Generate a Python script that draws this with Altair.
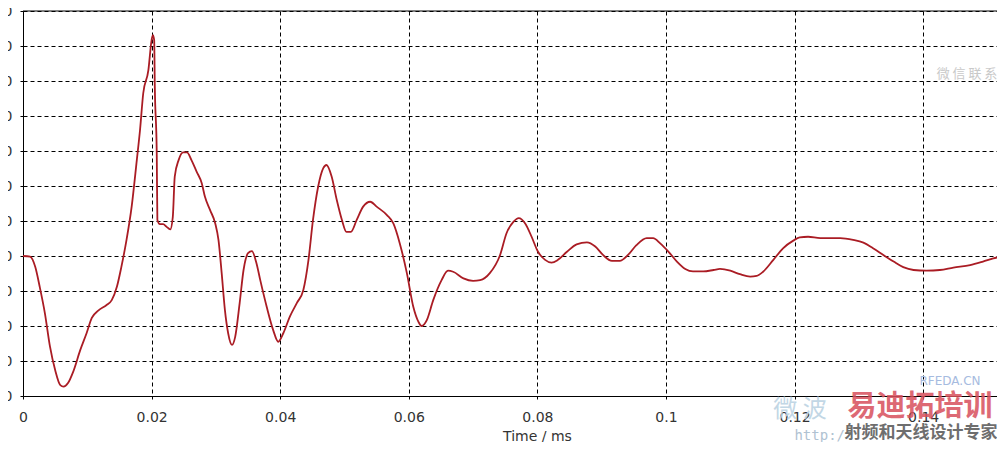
import altair as alt
import pandas as pd

# ---- data ----
time_ms = [
    0.0000, 0.0011, 0.0019, 0.0026, 0.0034, 0.0042, 0.0050, 0.0058, 0.0063, 0.0070,
    0.0078, 0.0089, 0.0099, 0.0107, 0.0117, 0.0130, 0.0138, 0.0146, 0.0153, 0.0161,
    0.0169, 0.0177, 0.0182, 0.0187, 0.0195, 0.0200, 0.0202, 0.0204, 0.0205, 0.0208,
    0.0209, 0.0213, 0.0218, 0.0223, 0.0229, 0.0233, 0.0236, 0.0242, 0.0249, 0.0255,
    0.0262, 0.0270, 0.0278, 0.0283, 0.0291, 0.0299, 0.0304, 0.0309, 0.0314, 0.0319,
    0.0325, 0.0330, 0.0337, 0.0343, 0.0350, 0.0356, 0.0363, 0.0369, 0.0379, 0.0389,
    0.0397, 0.0405, 0.0415, 0.0426, 0.0436, 0.0444, 0.0451, 0.0459, 0.0467, 0.0472,
    0.0480, 0.0488, 0.0496, 0.0503, 0.0510, 0.0519, 0.0529, 0.0540, 0.0550, 0.0566,
    0.0576, 0.0586, 0.0597, 0.0607, 0.0615, 0.0620, 0.0628, 0.0638, 0.0651, 0.0661,
    0.0669, 0.0685, 0.0700, 0.0711, 0.0726, 0.0742, 0.0752, 0.0763, 0.0771, 0.0781,
    0.0791, 0.0801, 0.0812, 0.0822, 0.0832, 0.0846, 0.0861, 0.0877, 0.0890, 0.0902,
    0.0916, 0.0928, 0.0941, 0.0954, 0.0970, 0.0980, 0.0991, 0.1004, 0.1017, 0.1030,
    0.1042, 0.1058, 0.1074, 0.1084, 0.1100, 0.1115, 0.1131, 0.1141, 0.1151, 0.1167,
    0.1182, 0.1198, 0.1208, 0.1221, 0.1240, 0.1271, 0.1291, 0.1307, 0.1322, 0.1338,
    0.1354, 0.1369, 0.1385, 0.1405, 0.1426, 0.1447, 0.1473, 0.1493, 0.1509, 0.1525,
]
signal = [
    0, -2, -31, -88, -163, -259, -326, -369, -373, -363,
    -331, -269, -220, -177, -156, -140, -126, -88, -31, 46,
    141, 274, 360, 465, 531, 617, 631, 617, 484, 294,
    103, 91, 91, 84, 76, 112, 227, 274, 296, 296,
    274, 241, 208, 169, 131, 93, 46, -49, -154, -220,
    -254, -231, -134, -40, 8, 14, -20, -69, -145, -211,
    -245, -220, -173, -134, -97, -11, 103, 198, 251, 260,
    227, 160, 103, 69, 69, 103, 141, 155, 141, 117,
    93, 36, -49, -145, -188, -200, -183, -126, -69, -42,
    -45, -64, -71, -69, -49, 3, 65, 98, 108, 93,
    55, 12, -11, -19, -11, 12, 33, 39, 27, 3,
    -14, -14, 3, 31, 51, 51, 36, 12, -16, -37,
    -44, -44, -40, -37, -42, -52, -59, -57, -45, -11,
    22, 44, 53, 55, 51, 51, 46, 38, 22, 3,
    -16, -32, -40, -42, -40, -33, -26, -16, -7, 0,
]
x_ticks = [0, 0.02, 0.04, 0.06, 0.08, 0.1, 0.12, 0.14]
y_ticks = [-400, -300, -200, -100, 0, 100, 200, 300, 400, 500, 600, 700]
x_domain = [0, 0.15148]
y_domain = [-400, 700]
x_title = "Time / ms"

W, H = 974, 385
FONT = "DejaVu Sans"
TXT = "#333333"

df = pd.DataFrame({"t": time_ms, "v": signal})

axis_common = dict(
    grid=True, gridColor="black", gridDash=[4, 3], gridWidth=1, gridOpacity=1,
    domainColor="black", domainWidth=1, tickColor="black", tickSize=3, tickWidth=1,
    labelFont=FONT, labelFontSize=14, labelColor=TXT, labelFlush=False,
    labelOverlap=False,
)

line = alt.Chart(df).mark_line(
    color="#aa1c24", strokeWidth=1.8, interpolate="monotone", clip=True
).encode(
    x=alt.X("t:Q",
            scale=alt.Scale(domain=x_domain, nice=False, zero=False),
            axis=alt.Axis(values=x_ticks, format="~g", title=x_title,
                          titleFont=FONT, titleFontSize=14, titleFontWeight="normal",
                          titleColor=TXT, titleX=514, titleY=44, titleAlign="center",
                          titleBaseline="alphabetic", labelPadding=11, **axis_common)),
    y=alt.Y("v:Q",
            scale=alt.Scale(domain=y_domain, nice=False),
            axis=alt.Axis(values=y_ticks, title=None, labelPadding=8, **axis_common)),
)

top_edge = alt.Chart(pd.DataFrame({"edge": [0]})).mark_rule(
    color="black", strokeWidth=1
).encode(x=alt.value(0), x2=alt.value(W), y=alt.value(0))


def wm(text, x, y, size, color, opacity=1.0, weight="normal", font="Noto Sans CJK SC",
       align="center"):
    return alt.Chart(pd.DataFrame({"label": [text]})).mark_text(
        font=font, fontSize=size, color=color, opacity=opacity, fontWeight=weight,
        align=align, baseline="middle"
    ).encode(text="label:N", x=alt.value(x), y=alt.value(y))


marks = [
    wm("微 波", 800 - 23, 410 - 11, 24, "#bcd3e3", 0.9),
    wm("易迪拓培训", 920 - 23, 407 - 11, 29, "#d8505c", 0.85, "bold"),
    wm("射频和天线设计专家", 921 - 23, 433 - 11, 17, "#6e6e6e", 1.0, "bold"),
    wm("http:/", 845 - 23, 436 - 11, 14, "#b0c2d2", 1.0, "normal", "DejaVu Sans Mono", "right"),
    wm("RFEDA.CN", 950 - 23, 381 - 11, 12, "#a6bbe0", 1.0, "normal", "DejaVu Sans"),
    wm("微 信 联 系", 967 - 23, 74 - 11, 13, "#c9c9c9", 1.0),
]

chart = alt.layer(line, top_edge, *marks).properties(
    width=W, height=H,
    autosize=alt.AutoSizeParams(type="none"),
    padding={"left": 15, "top": 3, "right": 0, "bottom": 434 - 3 - 385},
    background="white",
).configure_view(stroke=None)

chart.save("out.html", embed_options={"renderer": "svg", "actions": False})
